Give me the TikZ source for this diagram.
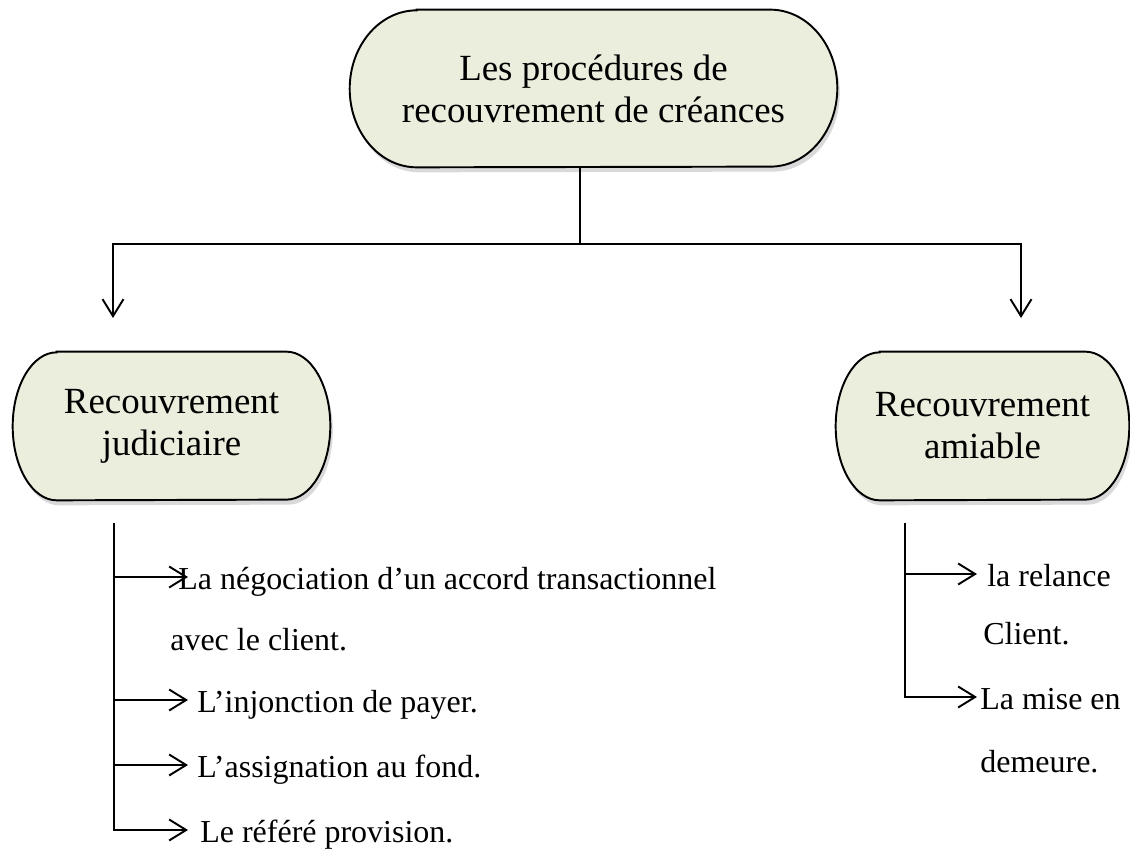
\documentclass[tikz,border=0pt]{standalone}
\usepackage{fontspec}
\setmainfont{Liberation Serif}
\usetikzlibrary{positioning,arrows.meta,shadows,backgrounds}
\definecolor{fondbox}{RGB}{235,238,221}

\begin{document}
\begin{tikzpicture}[x=0.02cm,y=-0.02cm,
% Box style
    boite/.style={align=center,inner sep=0pt,
		font=\fontsize{21}{23.9}\selectfont},
    contour/.style={draw=black,line width=1.1pt,fill=fondbox,
		drop shadow={shadow xshift=0.05cm,shadow yshift=-0.1cm,
		opacity=0.3}},
% List style
    item/.style={anchor=base west,inner sep=0pt,text height=0.52cm,
		text depth=0pt,font=\fontsize{18.2}{20}\selectfont},
% Connector style
    trait/.style={line width=1.1pt},
    fleche/.style={trait,-{Straight Barb[length=0.34cm,width=0.42cm]}}
    ]
\useasboundingbox (0,0) rectangle (1130,854);
%% Draw boxes
    \node (proc) [boite,minimum width=9.74cm,minimum height=3.14cm]
		at (593.5,88.5) {Les procédures de\\recouvrement de créances};
    \node (jud) [boite,minimum width=6.34cm,minimum height=2.96cm]
		at (171.5,426) {Recouvrement\\judiciaire};
    \node (ami) [boite,minimum width=5.86cm,minimum height=2.96cm]
		at (982.5,426) {Recouvrement\\amiable};
    \begin{scope}[on background layer]
	\foreach \n/\rx/\ry in {proc/1.34/1.57,jud/0.88/1.48,ami/0.88/1.48}
	    \draw[contour] ([xshift=\rx cm]\n.north west)
		-- ([xshift=-\rx cm]\n.north east)
		arc[start angle=90,end angle=-90,x radius=\rx cm,y radius=\ry cm]
		-- ([xshift=\rx cm]\n.south west)
		arc[start angle=270,end angle=90,x radius=\rx cm,y radius=\ry cm]
		-- cycle;
    \end{scope}
%% Draw connectors
    \coordinate (tronc) at (580,244);
    \coordinate (flecheG) at (113,318);
    \coordinate (flecheD) at (1021,318);
    \draw[trait] (proc.south -| tronc) -- (tronc);
    \draw[fleche] (tronc) -| (flecheG);
    \draw[fleche] (tronc) -| (flecheD);
%% Left list
    \node (neg) [item] at (178,590) {La négociation d’un accord transactionnel};
    \node (avec) [item] at (170,651) {avec le client.};
    \node (inj) [item] at (197,713) {L’injonction de payer.};
    \node (assig) [item] at (197,778) {L’assignation au fond.};
    \node (refere) [item] at (200,843) {Le référé provision.};
    \coordinate (listeG) at (114,523);
    \coordinate (boutG) at (188,0);
    \foreach \n in {neg,inj,assig}
	\draw[fleche] (listeG |- \n.west) -- (boutG |- \n.west);
    \draw[fleche] (listeG) |- (boutG |- refere.west);
%% Right list
    \node (relance) [item] at (987,587) {la relance};
    \node (client) [item] at (983,645) {Client.};
    \node (mise) [item] at (980,710) {La mise en};
    \node (demeure) [item] at (980,773) {demeure.};
    \coordinate (listeD) at (905,523);
    \coordinate (boutD) at (977,0);
    \draw[fleche] (listeD |- relance.west) -- (boutD |- relance.west);
    \draw[fleche] (listeD) |- (boutD |- mise.west);

\end{tikzpicture}
\end{document}
